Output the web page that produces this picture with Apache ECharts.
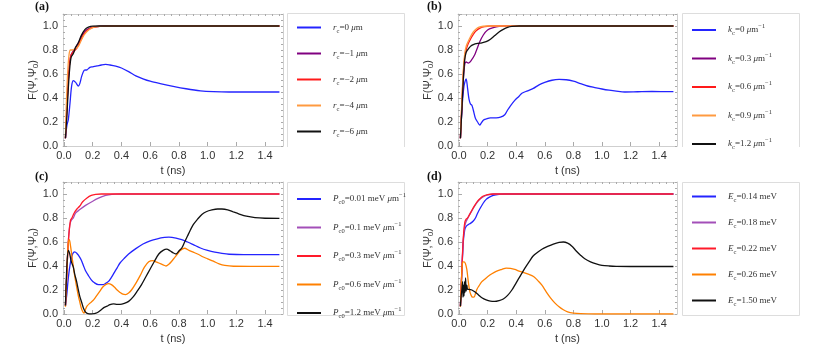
<!DOCTYPE html>
<html>
<head>
<meta charset="utf-8">
<script src="https://cdn.jsdelivr.net/npm/echarts@6/dist/echarts.min.js"></script>
<style>
  html, body { margin: 0; padding: 0; background: #fff; }
  #chart { width: 830px; height: 358px; }
</style>
</head>
<body>
<div id="chart"></div>
<script>
// Fidelity F(Psi, Psi0) vs t, four parameter sweeps (a)-(d)

// tick positions on the time axis
const xTicks = [0, 0.2, 0.4, 0.6, 0.8, 1.0, 1.2, 1.4];
const xMinorTicks = [0, 0.05, 0.1, 0.15, 0.2, 0.25, 0.3, 0.35, 0.4, 0.45, 0.5, 0.55, 0.6, 0.65, 0.7, 0.75,
  0.8, 0.85, 0.9, 0.95, 1.0, 1.05, 1.1, 1.15, 1.2, 1.25, 1.3, 1.35, 1.4, 1.45, 1.5];

// legend labels (rich text)
const labelsA = ['{i|r}{s|c}{n|=0 }{i|μ}{n|m}', '{i|r}{s|c}{n|=−1 }{i|μ}{n|m}', '{i|r}{s|c}{n|=−2 }{i|μ}{n|m}',
  '{i|r}{s|c}{n|=−4 }{i|μ}{n|m}', '{i|r}{s|c}{n|=−6 }{i|μ}{n|m}'];
const labelsB = ['{i|k}{s|c}{n|=0 }{i|μ}{n|m}{p|−1}', '{i|k}{s|c}{n|=0.3 }{i|μ}{n|m}{p|−1}', '{i|k}{s|c}{n|=0.6 }{i|μ}{n|m}{p|−1}',
  '{i|k}{s|c}{n|=0.9 }{i|μ}{n|m}{p|−1}', '{i|k}{s|c}{n|=1.2 }{i|μ}{n|m}{p|−1}'];
const labelsC = ['{i|P}{s|c0}{n|=0.01 meV }{i|μ}{n|m}{p|−1}', '{i|P}{s|c0}{n|=0.1 meV }{i|μ}{n|m}{p|−1}',
  '{i|P}{s|c0}{n|=0.3 meV }{i|μ}{n|m}{p|−1}', '{i|P}{s|c0}{n|=0.6 meV }{i|μ}{n|m}{p|−1}', '{i|P}{s|c0}{n|=1.2 meV }{i|μ}{n|m}{p|−1}'];
const labelsD = ['{i|E}{s|c}{n|=0.14 meV}', '{i|E}{s|c}{n|=0.18 meV}', '{i|E}{s|c}{n|=0.22 meV}',
  '{i|E}{s|c}{n|=0.26 meV}', '{i|E}{s|c}{n|=1.50 meV}'];

// (a) r_c sweep
const aBlue = [[0.01,0.065],[0.02,0.17],[0.03,0.22],[0.042,0.36],[0.053,0.5],[0.065,0.545],[0.081,0.53],[0.1,0.5],[0.11,0.52],
  [0.123,0.58],[0.14,0.63],[0.16,0.635],[0.18,0.655],[0.2,0.66],[0.23,0.667],[0.26,0.675],[0.29,0.68],[0.32,0.675],[0.36,0.665],
  [0.4,0.65],[0.45,0.62],[0.5,0.585],[0.55,0.56],[0.6,0.54],[0.67,0.52],[0.76,0.497],[0.85,0.477],[0.95,0.46],[1.04,0.453],
  [1.15,0.45],[1.3,0.45],[1.5,0.45]];
const aPurple = [[0.01,0.065],[0.02,0.3],[0.03,0.55],[0.04,0.7],[0.05,0.76],[0.07,0.8],[0.1,0.86],[0.13,0.93],[0.16,0.97],
  [0.2,0.99],[0.25,0.998],[0.3,1],[1.5,1]];
const aRed = [[0.01,0.065],[0.02,0.32],[0.03,0.56],[0.04,0.7],[0.05,0.76],[0.07,0.79],[0.09,0.815],[0.11,0.865],[0.135,0.925],
  [0.16,0.96],[0.19,0.985],[0.23,0.995],[0.3,0.999],[0.35,1],[1.5,1]];
const aOrange = [[0.01,0.065],[0.015,0.3],[0.025,0.6],[0.035,0.76],[0.045,0.8],[0.06,0.8],[0.077,0.81],[0.1,0.83],[0.12,0.88],
  [0.14,0.925],[0.16,0.955],[0.19,0.98],[0.22,0.993],[0.28,0.999],[0.35,1],[1.5,1]];
const aBlack = [[0.01,0.065],[0.02,0.25],[0.03,0.48],[0.04,0.65],[0.05,0.74],[0.065,0.77],[0.08,0.82],[0.1,0.86],[0.12,0.92],
  [0.145,0.97],[0.17,0.99],[0.2,0.999],[0.25,1],[1.5,1]];

// (b) k_c sweep
const bBlue = [[0.01,0.065],[0.02,0.3],[0.035,0.5],[0.05,0.56],[0.06,0.48],[0.07,0.39],[0.08,0.35],[0.09,0.34],[0.1,0.3],
  [0.115,0.23],[0.13,0.2],[0.145,0.175],[0.155,0.19],[0.17,0.215],[0.19,0.225],[0.22,0.235],[0.26,0.235],[0.29,0.24],
  [0.32,0.26],[0.34,0.3],[0.36,0.335],[0.39,0.38],[0.42,0.415],[0.44,0.44],[0.48,0.46],[0.52,0.48],[0.56,0.51],[0.6,0.53],
  [0.65,0.548],[0.7,0.555],[0.75,0.552],[0.8,0.54],[0.85,0.52],[0.9,0.5],[0.95,0.487],[1.0,0.475],[1.05,0.465],[1.1,0.457],
  [1.16,0.45],[1.25,0.452],[1.35,0.454],[1.5,0.453]];
const bPurple = [[0.01,0.065],[0.02,0.3],[0.03,0.55],[0.04,0.68],[0.05,0.7],[0.065,0.69],[0.088,0.717],[0.11,0.76],
  [0.123,0.8],[0.146,0.87],[0.17,0.925],[0.2,0.967],[0.24,0.986],[0.28,0.997],[0.32,1],[1.5,1]];
const bRed = [[0.01,0.065],[0.02,0.35],[0.03,0.6],[0.04,0.74],[0.05,0.8],[0.06,0.84],[0.08,0.89],[0.1,0.93],[0.12,0.96],
  [0.15,0.985],[0.18,0.995],[0.22,1],[1.5,1]];
const bOrange = [[0.01,0.065],[0.02,0.38],[0.03,0.63],[0.04,0.77],[0.05,0.83],[0.06,0.86],[0.08,0.91],[0.1,0.95],[0.12,0.975],
  [0.14,0.99],[0.17,0.998],[0.2,1],[1.5,1]];
const bBlack = [[0.01,0.065],[0.02,0.3],[0.03,0.55],[0.04,0.72],[0.05,0.78],[0.06,0.8],[0.08,0.83],[0.1,0.845],[0.13,0.855],
  [0.16,0.86],[0.19,0.87],[0.22,0.89],[0.25,0.92],[0.28,0.95],[0.31,0.972],[0.34,0.988],[0.37,0.996],[0.42,1],[1.5,1]];

// (c) P_c0 sweep
const cBlue = [[0.01,0.07],[0.02,0.17],[0.03,0.3],[0.045,0.43],[0.06,0.5],[0.075,0.517],[0.09,0.505],[0.1,0.49],[0.12,0.45],
  [0.135,0.405],[0.15,0.36],[0.17,0.32],[0.19,0.285],[0.21,0.262],[0.24,0.244],[0.27,0.244],[0.29,0.255],[0.31,0.272],
  [0.33,0.305],[0.35,0.345],[0.37,0.385],[0.39,0.425],[0.42,0.465],[0.45,0.5],[0.5,0.545],[0.55,0.583],[0.6,0.61],
  [0.65,0.627],[0.7,0.638],[0.73,0.64],[0.78,0.633],[0.82,0.62],[0.86,0.6],[0.9,0.578],[0.95,0.55],[1.0,0.53],[1.05,0.515],
  [1.1,0.505],[1.15,0.498],[1.25,0.494],[1.5,0.494]];
const cPurple = [[0.01,0.07],[0.02,0.35],[0.03,0.6],[0.04,0.74],[0.05,0.78],[0.065,0.8],[0.08,0.84],[0.11,0.87],[0.15,0.905],
  [0.2,0.94],[0.24,0.965],[0.27,0.98],[0.31,0.992],[0.36,0.999],[0.4,1],[1.5,1]];
const cRed = [[0.01,0.07],[0.02,0.35],[0.03,0.6],[0.045,0.78],[0.055,0.8],[0.07,0.84],[0.09,0.875],[0.11,0.9],[0.13,0.935],
  [0.16,0.967],[0.19,0.988],[0.22,0.997],[0.26,1],[1.5,1]];
const cOrange = [[0.01,0.06],[0.02,0.35],[0.03,0.6],[0.037,0.62],[0.045,0.57],[0.06,0.44],[0.07,0.35],[0.085,0.244],
  [0.1,0.15],[0.11,0.1],[0.123,0.04],[0.14,0.008],[0.15,0.04],[0.16,0.065],[0.18,0.09],[0.2,0.11],[0.22,0.14],[0.25,0.19],
  [0.27,0.225],[0.29,0.245],[0.31,0.253],[0.33,0.245],[0.35,0.225],[0.37,0.2],[0.39,0.18],[0.41,0.165],[0.43,0.162],
  [0.45,0.175],[0.47,0.2],[0.5,0.255],[0.53,0.32],[0.56,0.39],[0.59,0.435],[0.62,0.445],[0.64,0.435],[0.66,0.425],
  [0.69,0.41],[0.71,0.4],[0.73,0.415],[0.75,0.44],[0.77,0.47],[0.79,0.5],[0.81,0.53],[0.84,0.548],[0.87,0.53],[0.9,0.515],
  [0.93,0.5],[0.97,0.475],[1.0,0.46],[1.04,0.44],[1.08,0.418],[1.12,0.405],[1.18,0.398],[1.3,0.397],[1.5,0.397]];
const cBlack = [[0.01,0.07],[0.02,0.4],[0.03,0.53],[0.04,0.5],[0.05,0.44],[0.065,0.39],[0.075,0.33],[0.088,0.27],[0.1,0.2],
  [0.11,0.147],[0.125,0.09],[0.135,0.05],[0.15,0.015],[0.165,0.004],[0.19,0.0],[0.21,0.003],[0.23,0.01],[0.26,0.036],
  [0.28,0.055],[0.3,0.065],[0.32,0.078],[0.345,0.084],[0.37,0.08],[0.39,0.08],[0.42,0.088],[0.45,0.105],[0.48,0.14],
  [0.51,0.19],[0.54,0.245],[0.57,0.31],[0.6,0.375],[0.63,0.44],[0.66,0.5],[0.69,0.53],[0.715,0.54],[0.74,0.525],[0.76,0.51],
  [0.78,0.5],[0.8,0.525],[0.82,0.55],[0.84,0.6],[0.86,0.65],[0.88,0.7],[0.9,0.745],[0.93,0.79],[0.96,0.83],[0.99,0.852],
  [1.03,0.867],[1.07,0.875],[1.1,0.875],[1.14,0.868],[1.18,0.85],[1.22,0.833],[1.27,0.815],[1.33,0.803],[1.4,0.798],[1.5,0.797]];

// (d) E_c sweep
const dBlue = [[0.01,0.065],[0.02,0.35],[0.03,0.6],[0.04,0.7],[0.05,0.73],[0.065,0.745],[0.08,0.755],[0.1,0.775],[0.115,0.8],
  [0.13,0.84],[0.15,0.885],[0.17,0.925],[0.19,0.955],[0.21,0.972],[0.24,0.988],[0.28,0.997],[0.32,1],[1.5,1]];
const dPurple = [[0.01,0.065],[0.02,0.36],[0.03,0.62],[0.04,0.73],[0.05,0.77],[0.07,0.82],[0.09,0.86],[0.11,0.9],[0.13,0.935],
  [0.15,0.96],[0.18,0.983],[0.21,0.995],[0.25,1],[1.5,1]];
const dRed = [[0.01,0.065],[0.02,0.37],[0.03,0.63],[0.04,0.76],[0.05,0.79],[0.06,0.8],[0.07,0.82],[0.09,0.865],[0.11,0.905],
  [0.13,0.94],[0.15,0.965],[0.17,0.983],[0.2,0.995],[0.24,1],[1.5,1]];
const dOrange = [[0.01,0.06],[0.018,0.3],[0.025,0.43],[0.035,0.435],[0.045,0.42],[0.055,0.37],[0.065,0.27],[0.075,0.19],
  [0.085,0.155],[0.095,0.14],[0.105,0.14],[0.115,0.17],[0.125,0.205],[0.14,0.235],[0.16,0.27],[0.18,0.29],[0.2,0.31],
  [0.23,0.335],[0.26,0.355],[0.3,0.372],[0.33,0.383],[0.36,0.38],[0.39,0.372],[0.42,0.358],[0.45,0.347],[0.48,0.335],
  [0.51,0.32],[0.53,0.305],[0.55,0.28],[0.58,0.24],[0.61,0.185],[0.64,0.135],[0.67,0.093],[0.7,0.06],[0.73,0.035],
  [0.76,0.018],[0.8,0.008],[0.85,0.003],[0.95,0.0],[1.5,0.0]];
const dBlack = [[0.01,0.065],[0.015,0.15],[0.02,0.2],[0.025,0.27],[0.028,0.14],[0.032,0.24],[0.035,0.15],[0.039,0.27],
  [0.042,0.18],[0.046,0.3],[0.05,0.19],[0.055,0.24],[0.06,0.205],[0.07,0.205],[0.09,0.2],[0.11,0.185],[0.135,0.16],
  [0.16,0.135],[0.19,0.117],[0.22,0.107],[0.25,0.105],[0.28,0.112],[0.31,0.125],[0.34,0.155],[0.37,0.2],[0.4,0.26],
  [0.43,0.32],[0.46,0.38],[0.49,0.435],[0.52,0.485],[0.55,0.515],[0.58,0.54],[0.62,0.563],[0.66,0.583],[0.7,0.597],
  [0.73,0.6],[0.76,0.59],[0.79,0.565],[0.82,0.525],[0.85,0.49],[0.88,0.46],[0.92,0.435],[0.96,0.418],[1.0,0.406],
  [1.05,0.4],[1.1,0.397],[1.2,0.396],[1.5,0.396]];

const colorsAB = ['#2424ff', '#800080', '#ff1a1a', '#ff9a40', '#111111'];
const colorsCD = ['#2424ff', '#a34fb8', '#ff1a2a', '#ff8000', '#111111'];

const panels = [
  { tag: '(a)', data: [aBlue, aPurple, aRed, aOrange, aBlack], labels: labelsA, colors: colorsAB },
  { tag: '(b)', data: [bBlue, bPurple, bRed, bOrange, bBlack], labels: labelsB, colors: colorsAB },
  { tag: '(c)', data: [cBlue, cPurple, cRed, cOrange, cBlack], labels: labelsC, colors: colorsCD },
  { tag: '(d)', data: [dBlue, dPurple, dRed, dOrange, dBlack], labels: labelsD, colors: colorsCD },
];

const grids = [
  { left: 63, top: 14, width: 220, height: 132 },
  { left: 458, top: 14, width: 219, height: 132 },
  { left: 63, top: 182, width: 220, height: 132 },
  { left: 458, top: 182, width: 219, height: 132 },
];
const legendPos = [
  { left: 292, top: 18 }, { left: 687, top: 18 },
  { left: 292, top: 187 }, { left: 687, top: 187 },
];

const frame = '#cfcfcf';
const tickCol = '#aaaaaa';
const sans = 'Liberation Sans, Arial, sans-serif';
const serif = 'Liberation Serif, Times New Roman, serif';

const xAxis = [];
const yAxis = [];
const series = [];
const legend = [];
const nameToLabel = {};

panels.forEach((p, i) => {
  xAxis.push({
    gridIndex: i, type: 'value', min: -0.007, max: 1.525,
    axisLine: { show: true, onZero: false, lineStyle: { color: frame } },
    axisTick: { show: true, inside: true, length: 4, lineStyle: { color: tickCol }, customValues: xTicks },
    axisLabel: { customValues: xTicks, formatter: (v) => v.toFixed(1), fontSize: 11, color: '#333',
      fontFamily: sans, margin: 4 },
    splitLine: { show: false },
    name: 't (ns)', nameLocation: 'middle', nameGap: 19,
    nameTextStyle: { fontSize: 11, color: '#333', fontFamily: sans },
  });
  xAxis.push({
    gridIndex: i, type: 'value', position: 'top', min: -0.007, max: 1.525,
    axisLine: { show: true, onZero: false, lineStyle: { color: frame } },
    axisTick: { show: true, inside: true, length: 2, lineStyle: { color: tickCol }, customValues: xMinorTicks },
    axisLabel: { show: false },
    splitLine: { show: false },
  });
  yAxis.push({
    gridIndex: i, type: 'value', min: 0, max: 1.1, interval: 0.2,
    axisLine: { show: true, onZero: false, lineStyle: { color: frame } },
    axisTick: { show: true, inside: true, length: 4, lineStyle: { color: tickCol } },
    minorTick: { show: true, splitNumber: 4, length: 2, lineStyle: { color: tickCol } },
    axisLabel: { formatter: (v) => v.toFixed(1), showMaxLabel: false, fontSize: 11, color: '#333',
      fontFamily: sans, margin: 5 },
    splitLine: { show: false },
    name: '{a|F(Ψ,Ψ}{b|0}{a|)}', nameLocation: 'middle', nameGap: 23, nameMoveOverlap: false,
    nameTextStyle: {
      rich: {
        a: { fontSize: 11, color: '#333', fontFamily: sans, lineHeight: 15 },
        b: { fontSize: 8, color: '#333', fontFamily: sans, verticalAlign: 'bottom', lineHeight: 11 },
      },
    },
  });
  yAxis.push({
    gridIndex: i, type: 'value', position: 'right', min: 0, max: 1.1, interval: 0.05,
    axisLine: { show: true, onZero: false, lineStyle: { color: frame } },
    axisTick: { show: true, inside: true, length: 2, lineStyle: { color: tickCol } },
    axisLabel: { show: false },
    splitLine: { show: false },
  });

  const names = [];
  p.data.forEach((d, k) => {
    const name = p.tag + k;
    names.push(name);
    nameToLabel[name] = p.labels[k];
    series.push({
      type: 'line', name: name, xAxisIndex: 2 * i, yAxisIndex: 2 * i,
      data: d, symbol: 'none', showSymbol: false, smooth: 0.3,
      lineStyle: { width: 1.3, color: p.colors[k] }, itemStyle: { color: p.colors[k] },
      z: 2 + k,
    });
  });

  legend.push({
    ...legendPos[i], orient: 'vertical', data: names,
    icon: 'rect', itemWidth: 24, itemHeight: 2, itemGap: 14.5,
    selectedMode: false,
    formatter: (n) => nameToLabel[n],
    textStyle: {
      padding: [0, 0, 0, 7],
      rich: {
        n: { fontFamily: serif, fontSize: 9, color: '#333', lineHeight: 14 },
        i: { fontFamily: serif, fontSize: 9, fontStyle: 'italic', color: '#333', lineHeight: 14 },
        s: { fontFamily: serif, fontSize: 6.5, color: '#333', verticalAlign: 'bottom', lineHeight: 11 },
        p: { fontFamily: serif, fontSize: 6.5, color: '#333', verticalAlign: 'top', lineHeight: 11 },
      },
    },
  });
});

const boxStyle = { stroke: '#dddddd', lineWidth: 1, fill: null };
const graphic = [
  { type: 'text', left: 35, top: 1, style: { text: '(a)', font: 'bold 12px ' + serif, fill: '#111' } },
  { type: 'text', left: 427, top: 1, style: { text: '(b)', font: 'bold 12px ' + serif, fill: '#111' } },
  { type: 'text', left: 35, top: 171, style: { text: '(c)', font: 'bold 12px ' + serif, fill: '#111' } },
  { type: 'text', left: 427, top: 171, style: { text: '(d)', font: 'bold 12px ' + serif, fill: '#111' } },
  { type: 'polyline', shape: { points: [[287.5, 147], [287.5, 13.5], [404.5, 13.5], [404.5, 147]] }, style: boxStyle, silent: true },
  { type: 'polyline', shape: { points: [[682.5, 147], [682.5, 13.5], [799.5, 13.5], [799.5, 147]] }, style: boxStyle, silent: true },
  { type: 'rect', shape: { x: 287.5, y: 182.5, width: 117, height: 133 }, style: boxStyle, silent: true },
  { type: 'rect', shape: { x: 682.5, y: 182.5, width: 117, height: 133 }, style: boxStyle, silent: true },
];

const chart = echarts.init(document.getElementById('chart'), null, { renderer: 'canvas' });
chart.setOption({
  animation: false,
  backgroundColor: '#ffffff',
  grid: grids,
  xAxis: xAxis,
  yAxis: yAxis,
  legend: legend,
  graphic: graphic,
  series: series,
});
</script>
</body>
</html>
